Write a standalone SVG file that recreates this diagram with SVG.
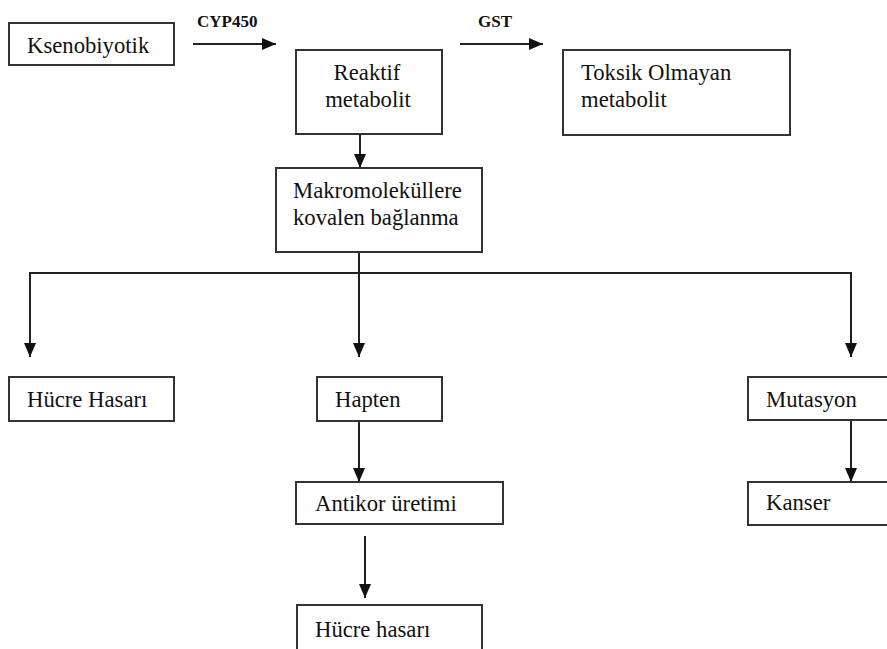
<svg xmlns="http://www.w3.org/2000/svg" width="887" height="649" viewBox="0 0 887 649">
<style>
.box{fill:#fff;stroke:#333;stroke-width:2}
.t{font-family:'Liberation Serif','DejaVu Serif',serif;font-size:22.7px;fill:#111}
.lbl{font-family:'Liberation Serif','DejaVu Serif',serif;font-size:17px;font-weight:bold;fill:#111}
.ln{stroke:#222;stroke-width:2;fill:none}
</style>
<defs>
<marker id="ah" markerUnits="userSpaceOnUse" markerWidth="14" markerHeight="14" viewBox="0 0 14 14" refX="14" refY="7" orient="auto">
<path d="M0,1 L14,7 L0,13 Z" fill="#111"/>
</marker>
</defs>
<rect width="887" height="649" fill="#fff"/>
<g id="connectors">
<line class="ln" x1="193" y1="44" x2="276" y2="44" marker-end="url(#ah)"/>
<text class="lbl" x="197" y="27">CYP450</text>
<line class="ln" x1="460" y1="44" x2="543" y2="44" marker-end="url(#ah)"/>
<text class="lbl" x="478" y="27">GST</text>
<line class="ln" x1="360" y1="134" x2="360" y2="168" marker-end="url(#ah)"/>
<line class="ln" x1="359" y1="252" x2="359" y2="357" marker-end="url(#ah)"/>
<polyline class="ln" points="30,357 30,273 851,273 851,357" marker-end="url(#ah)"/>
<line class="ln" x1="30" y1="273" x2="30" y2="357" marker-end="url(#ah)"/>
<line class="ln" x1="359" y1="421" x2="359" y2="482" marker-end="url(#ah)"/>
<line class="ln" x1="365" y1="536" x2="365" y2="598" marker-end="url(#ah)"/>
<line class="ln" x1="851" y1="420" x2="851" y2="482" marker-end="url(#ah)"/>
</g>
<g id="ksenobiyotik"><rect class="box" x="9" y="23" width="165" height="42"/><text class="t" x="27" y="53">Ksenobiyotik</text></g>
<g id="reaktif"><rect class="box" x="296" y="50" width="146" height="84"/><text class="t" x="367" y="80" text-anchor="middle">Reaktif</text><text class="t" x="368" y="107" text-anchor="middle">metabolit</text></g>
<g id="toksik"><rect class="box" x="563" y="50" width="227" height="85"/><text class="t" x="581" y="80">Toksik Olmayan</text><text class="t" x="581" y="107">metabolit</text></g>
<g id="makro"><rect class="box" x="276" y="168" width="206" height="84"/><text class="t" x="293" y="198">Makromoleküllere</text><text class="t" x="293" y="225">kovalen bağlanma</text></g>
<g id="hucre1"><rect class="box" x="9" y="377" width="165" height="44"/><text class="t" x="27" y="407">Hücre Hasarı</text></g>
<g id="hapten"><rect class="box" x="317" y="377" width="125" height="44"/><text class="t" x="335" y="407">Hapten</text></g>
<g id="mutasyon"><rect class="box" x="748" y="377" width="150" height="43"/><text class="t" x="766" y="407">Mutasyon</text></g>
<g id="kanser"><rect class="box" x="748" y="482" width="150" height="43"/><text class="t" x="766" y="510">Kanser</text></g>
<g id="antikor"><rect class="box" x="296" y="482" width="207" height="42"/><text class="t" x="315" y="511">Antikor üretimi</text></g>
<g id="hucre2"><rect class="box" x="297" y="605" width="185" height="50"/><text class="t" x="315" y="637">Hücre hasarı</text></g>
</svg>
